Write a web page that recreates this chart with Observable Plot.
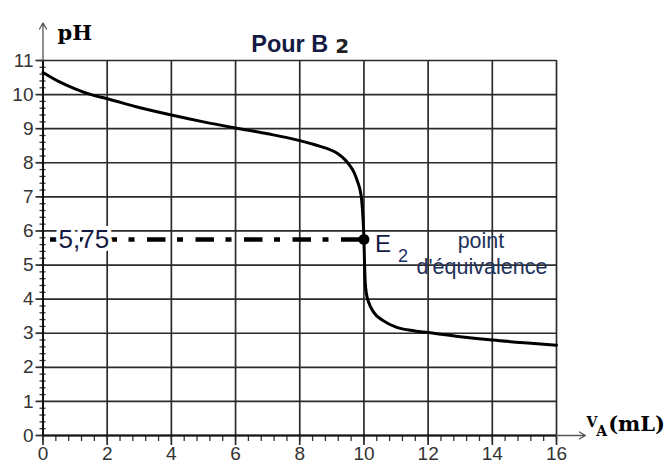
<!DOCTYPE html>
<html><head><meta charset="utf-8">
<script src="https://cdn.jsdelivr.net/npm/d3@7"></script>
<script src="https://cdn.jsdelivr.net/npm/@observablehq/plot@0.6"></script>
<style>body{margin:0;background:#fff}</style>
</head><body><div id="chart"></div>
<script>
// Titration data
const volumes = [0, 0.5, 1, 1.5, 2, 3, 4, 5, 6, 7, 8, 8.5, 9, 9.2, 9.4, 9.55, 9.7, 9.8, 9.88, 9.93, 9.97, 10, 10.02, 10.04, 10.08, 10.15, 10.3, 10.6, 11, 11.5, 12, 13, 14, 15, 16];
const pHValues = [10.65, 10.38, 10.17, 10.0, 9.88, 9.62, 9.4, 9.2, 9.02, 8.85, 8.65, 8.52, 8.36, 8.26, 8.1, 7.93, 7.7, 7.45, 7.2, 6.9, 6.4, 5.75, 5.0, 4.5, 4.15, 3.9, 3.62, 3.37, 3.18, 3.08, 3.02, 2.9, 2.8, 2.72, 2.65];
const yTicks = [0,1,2,3,4,5,6,7,8,9,10,11];
const xTicks = [0,2,4,6,8,10,12,14,16];
const xMinorTicks = d3.range(0, 41).map(i => i * 0.4);
const yMinorTicks = d3.range(0, 56).map(i => i * 0.2);
const equivalence = [{V: 10, pH: 5.75, label: "5,75"}];
const titleMain = "Pour B";
const titleSub = "2";
const pointLabel = "E";
const pointSub = "2";
const noteLine1 = "point";
const noteLine2 = "d'équivalence";
const yLabel = "pH";
const xLabelMain = "V";
const xLabelSub = "A";
const xLabelUnit = "(mL)";
const xDomain = [0, 16];
const yDomain = [0, 11];
const xAxisEnd = 16.9;
const yAxisEnd = 12.1;

const data = volumes.map((v, i) => ({V: v, pH: pHValues[i]}));
const gridColor = "#2b2b2b";
const navy = "#141a44";

const chart = Plot.plot({
  width: 672, height: 467,
  marginLeft: 42.5, marginRight: 116, marginTop: 60, marginBottom: 32,
  x: {domain: xDomain, axis: null},
  y: {domain: yDomain, axis: null},
  style: {fontFamily: "'Liberation Sans', Arial, sans-serif", background: "white", overflow: "visible"},
  marks: [
    Plot.gridY(yTicks, {stroke: gridColor, strokeOpacity: 1, strokeWidth: 1.7}),
    Plot.gridX(xTicks.filter(d => d > 0), {stroke: gridColor, strokeOpacity: 1, strokeWidth: 1.7}),
    // ticks
    Plot.ruleX(xTicks, {y1: 0, y2: 0, insetBottom: -10, stroke: gridColor, strokeWidth: 1.7}),
    Plot.ruleX(xMinorTicks, {y1: 0, y2: 0, insetBottom: -6, stroke: "#333", strokeWidth: 1.3}),
    Plot.ruleY(yTicks, {x1: 0, x2: 0, insetLeft: -7, stroke: gridColor, strokeWidth: 1.7}),
    Plot.ruleY(yMinorTicks, {x1: 0, x2: 0, insetLeft: -3, insetRight: -3, stroke: "#333", strokeWidth: 1.3}),
    Plot.axisY(yTicks, {anchor: "left", tickSize: 0, tickPadding: 9.5, fontSize: 19, fill: "#333"}),
    Plot.axisX(xTicks, {anchor: "bottom", tickSize: 0, tickPadding: 11, fontSize: 19, fill: "#333"}),
    // axis lines
    Plot.ruleX([0], {y1: 0, y2: 11, stroke: "#111", strokeWidth: 2}),
    Plot.ruleY([0], {x1: 0, x2: 16, stroke: "#111", strokeWidth: 2}),
    Plot.arrow([{x1: 0, y1: 11, x2: 0, y2: yAxisEnd}], {x1: "x1", y1: "y1", x2: "x2", y2: "y2", stroke: "#555", strokeWidth: 1.3, headLength: 8}),
    Plot.arrow([{x1: 16, y1: 0, x2: xAxisEnd, y2: 0}], {x1: "x1", y1: "y1", x2: "x2", y2: "y2", stroke: "#555", strokeWidth: 1.3, headLength: 8}),
    // dashed equivalence line
    Plot.ruleY(equivalence, {y: "pH", x1: 0, x2: "V", stroke: "#000", strokeWidth: 4.5, strokeDasharray: "18.5,11.5,6,12.5", strokeDashoffset: 41}),
    // curve
    Plot.line(data, {x: "V", y: "pH", curve: "monotone-x", stroke: "#000", strokeWidth: 3}),
    Plot.dot(equivalence, {x: "V", y: "pH", r: 5.5, fill: "#000"}),
    // labels
    Plot.text(equivalence, {x: 0, y: "pH", text: "label", dx: 15.5, textAnchor: "start", fontSize: 26, fill: navy, stroke: "white", strokeWidth: 8, strokeLinejoin: "round"}),
    Plot.text(equivalence, {x: "V", y: "pH", text: () => pointLabel, dx: 11, dy: 5, textAnchor: "start", fontSize: 24, fill: navy}),
    Plot.text(equivalence, {x: "V", y: "pH", text: () => pointSub, dx: 34, dy: 17, textAnchor: "start", fontSize: 18, fill: "#1d2f66"}),
    Plot.text(equivalence, {x: "V", y: "pH", text: () => noteLine1, dx: 117, dy: 2, textAnchor: "middle", fontSize: 21.5, fill: "#23325a"}),
    Plot.text(equivalence, {x: "V", y: "pH", text: () => noteLine2, dx: 118, dy: 28, textAnchor: "middle", fontSize: 21.5, fill: "#23325a"}),
    Plot.text([titleMain], {frameAnchor: "top", text: d => d, dx: 28.5, dy: -25.5, textAnchor: "end", fontSize: 23.5, fontWeight: "bold", fill: navy}),
    Plot.text([titleSub], {frameAnchor: "top", text: d => d, dx: 35.5, dy: -21.5, textAnchor: "start", fontSize: 20, fontWeight: "bold", fontFamily: "DejaVu Sans", fill: "#222"}),
    Plot.text([yLabel], {frameAnchor: "top-left", text: d => d, dx: 14.5, dy: -35, textAnchor: "start", fontSize: 21, fontWeight: "bold", fontFamily: "DejaVu Serif", fill: "#000"}),
    Plot.text([xLabelMain], {frameAnchor: "bottom-right", text: d => d, dx: 30, dy: -9, textAnchor: "start", fontSize: 14, fontWeight: "bold", fontFamily: "DejaVu Serif", fill: "#000"})
  ]
});
// subscript "A" after the "V", then the unit, as tspans of one text element
const vText = d3.select(chart).selectAll("text").filter(function() { return this.textContent === xLabelMain; });
vText.append("tspan").attr("dx", "0").attr("dy", "9").text(xLabelSub);
vText.append("tspan").attr("dx", "1").attr("dy", "-5").attr("font-size", 21).text(xLabelUnit);
document.getElementById("chart").appendChild(chart);
</script>
</body></html>
